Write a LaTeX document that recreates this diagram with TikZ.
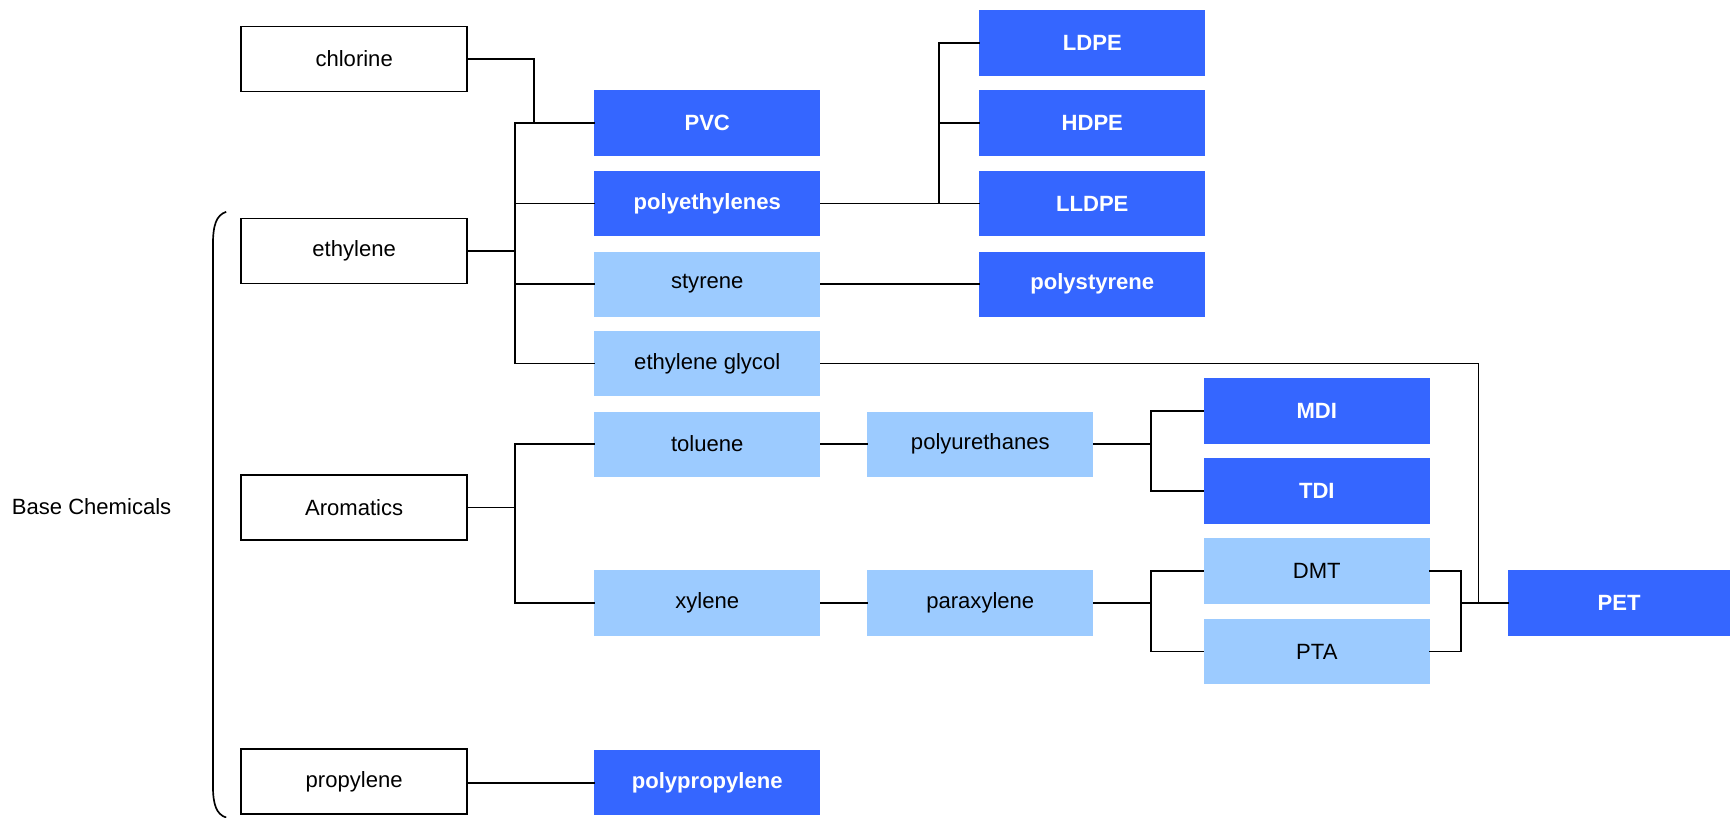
\documentclass[tikz,border=0pt]{standalone}
\usepackage{fontspec}
\setmainfont{Liberation Sans}
\definecolor{prodblue}{HTML}{3566FF}
\definecolor{interblue}{HTML}{9CCBFF}
\begin{document}
\begin{tikzpicture}[x=1pt,y=-1pt,
  base/.style={minimum width=205pt,minimum height=59pt,inner sep=0pt,
    font=\fontsize{20}{24}\selectfont},
  rawbox/.style={base,draw=black,line width=1.5pt,fill=white},
  product/.style={base,fill=prodblue,text=white,
    font=\fontsize{20}{24}\selectfont\bfseries},
  inter/.style={base,fill=interblue},
  link/.style={line width=1.6pt,black,line cap=rect}]
\useasboundingbox (0,0) rectangle (1568,741);

% base chemicals
\node[font=\fontsize{20}{24}\selectfont] (basechem) at (83,459) {Base Chemicals};
\node[rawbox] (chlorine)  at (321,53.5)  {chlorine};
\node[rawbox] (ethylene)  at (321,227.5) {ethylene};
\node[rawbox] (aromatics) at (321,460)   {Aromatics};
\node[rawbox] (propylene) at (321,708.5) {propylene};

% brace grouping the base chemicals
\draw[line width=1.5pt] (205,192) .. controls (196,195) and (193,204) .. (193,222)
  -- (193,712) .. controls (193,729) and (196,738) .. (205,741);

% second column
\node[product] (pvc)    at (641,111.5) {PVC};
\node[product] (pe)     at (641,184.5) {polyethylenes};
\node[inter]   (sty)    at (641,257.5) {styrene};
\node[inter]   (eg)     at (641,329.5) {ethylene glycol};
\node[inter]   (tol)    at (641,402.5) {toluene};
\node[inter]   (xyl)    at (641,546.5) {xylene};
\node[product] (pp)     at (641,709.5) {polypropylene};

% third column
\node[inter]   (pu)     at (888.5,402.5) {polyurethanes};
\node[inter]   (px)     at (888.5,546.5) {paraxylene};

% polyethylene grades and polystyrene
\node[product] (ldpe)   at (990,39)    {LDPE};
\node[product] (hdpe)   at (990,111.5) {HDPE};
\node[product] (lldpe)  at (990,184.5) {LLDPE};
\node[product] (ps)     at (990,257.5) {polystyrene};

% fourth column
\node[product] (mdi)    at (1193.5,372.5) {MDI};
\node[product] (tdi)    at (1193.5,445)   {TDI};
\node[inter]   (dmt)    at (1193.5,517.5) {DMT};
\node[inter]   (pta)    at (1193.5,590.5) {PTA};

% PET
\node[product,minimum width=201pt] (pet) at (1467.5,546.5) {PET};

% bus positions
\coordinate (busEth) at (467,0);
\coordinate (busCl)  at (484,0);
\coordinate (busPE)  at (851,0);
\coordinate (busPU)  at (1043,0);
\coordinate (busDP)  at (1324,0);
\coordinate (busEG)  at (1340,0);

% ethylene derivatives
\draw[link] (ethylene.east) -- (ethylene.east -| busEth);
\draw[link] (busEth |- pvc.west) -- (busEth |- eg.west);
\draw[link] (busEth |- pvc.west) -- (pvc.west);
\draw[link] (busEth |- pe.west)  -- (pe.west);
\draw[link] (busEth |- sty.west) -- (sty.west);
\draw[link] (busEth |- eg.west)  -- (eg.west);
\draw[link] (chlorine.east) -| (busCl |- pvc.west);

% polyethylene grades
\draw[link] (pe.east) -- (lldpe.west);
\draw[link] (busPE |- ldpe.west) -- (busPE |- lldpe.west);
\draw[link] (busPE |- ldpe.west) -- (ldpe.west);
\draw[link] (busPE |- hdpe.west) -- (hdpe.west);

% styrene to polystyrene
\draw[link] (sty.east) -- (ps.west);

% aromatics
\draw[link] (aromatics.east) -- (aromatics.east -| busEth);
\draw[link] (busEth |- tol.west) -- (busEth |- xyl.west);
\draw[link] (busEth |- tol.west) -- (tol.west);
\draw[link] (busEth |- xyl.west) -- (xyl.west);
\draw[link] (tol.east) -- (pu.west);
\draw[link] (xyl.east) -- (px.west);

% polyurethanes to MDI / TDI
\draw[link] (pu.east) -- (pu.east -| busPU);
\draw[link] (busPU |- mdi.west) -- (busPU |- tdi.west);
\draw[link] (busPU |- mdi.west) -- (mdi.west);
\draw[link] (busPU |- tdi.west) -- (tdi.west);

% paraxylene to DMT / PTA
\draw[link] (px.east) -- (px.east -| busPU);
\draw[link] (busPU |- dmt.west) -- (busPU |- pta.west);
\draw[link] (busPU |- dmt.west) -- (dmt.west);
\draw[link] (busPU |- pta.west) -- (pta.west);

% DMT / PTA and ethylene glycol to PET
\draw[link] (dmt.east) -| (busDP |- pta.east) -- (pta.east);
\draw[link] (busDP |- pet.west) -- (pet.west);
\draw[link] (eg.east) -| (busEG |- pet.west);

% propylene
\draw[link] (propylene.east |- pp.west) -- (pp.west);
\end{tikzpicture}
\end{document}
